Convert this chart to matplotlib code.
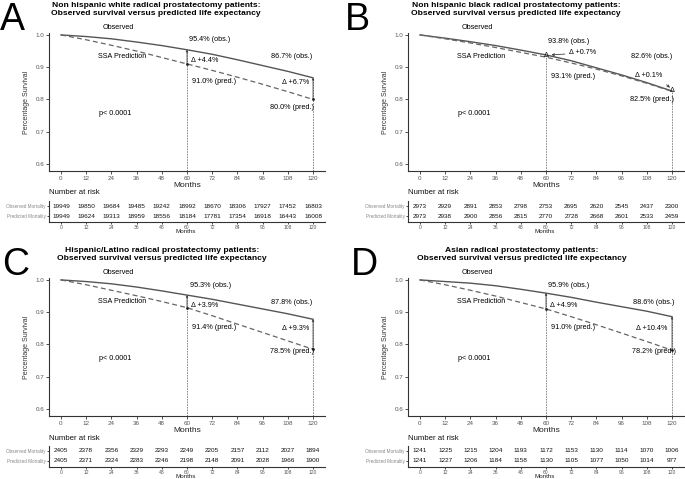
import matplotlib
matplotlib.use("Agg")
import matplotlib.pyplot as plt

plt.rcParams['font.family'] = ['Liberation Sans', 'DejaVu Sans']

months = [0, 12, 24, 36, 48, 60, 72, 84, 96, 108, 120]

titles = [
    "Non hispanic white radical prostatectomy patients:\nObserved survival versus predicted life expectancy",
    "Non hispanic black radical prostatectomy patients:\nObserved survival versus predicted life expectancy",
    "Hispanic/Latino radical prostatectomy patients:\nObserved survival versus predicted life expectancy",
    "Asian radical prostatectomy patients:\nObserved survival versus predicted life expectancy",
]
letters = ["A", "B", "C", "D"]

obs_A = [1.0, 0.995, 0.988, 0.978, 0.967, 0.954, 0.940, 0.923, 0.905, 0.887, 0.867]
pred_A = [1.0, 0.985, 0.968, 0.950, 0.930, 0.910, 0.890, 0.869, 0.847, 0.824, 0.800]
obs_B = [1.0, 0.990, 0.979, 0.967, 0.953, 0.938, 0.920, 0.898, 0.876, 0.852, 0.826]
pred_B = [1.0, 0.988, 0.975, 0.961, 0.946, 0.931, 0.913, 0.894, 0.873, 0.850, 0.825]
obs_C = [1.0, 0.995, 0.988, 0.978, 0.966, 0.953, 0.940, 0.925, 0.910, 0.895, 0.878]
pred_C = [1.0, 0.985, 0.968, 0.951, 0.933, 0.914, 0.889, 0.863, 0.837, 0.811, 0.785]
obs_D = [1.0, 0.995, 0.990, 0.982, 0.971, 0.959, 0.946, 0.931, 0.917, 0.903, 0.886]
pred_D = [1.0, 0.985, 0.968, 0.950, 0.930, 0.910, 0.886, 0.861, 0.835, 0.809, 0.782]

risk_obs_A = [19949, 19850, 19684, 19485, 19242, 18992, 18670, 18306, 17927, 17452, 16803]
risk_pred_A = [19949, 19624, 19313, 18959, 18556, 18184, 17781, 17354, 16918, 16443, 16008]
risk_obs_B = [2973, 2929, 2891, 2853, 2798, 2753, 2695, 2620, 2545, 2437, 2300]
risk_pred_B = [2973, 2938, 2900, 2856, 2815, 2770, 2728, 2668, 2601, 2533, 2459]
risk_obs_C = [2405, 2378, 2356, 2329, 2293, 2249, 2205, 2157, 2112, 2027, 1894]
risk_pred_C = [2405, 2371, 2324, 2283, 2246, 2198, 2148, 2091, 2028, 1966, 1900]
risk_obs_D = [1241, 1225, 1215, 1204, 1193, 1172, 1153, 1130, 1114, 1070, 1006]
risk_pred_D = [1241, 1227, 1206, 1184, 1158, 1130, 1105, 1077, 1050, 1014, 977]

obs_labels = [("95.4% (obs.)", "86.7% (obs.)"), ("93.8% (obs.)", "82.6% (obs.)"),
              ("95.3% (obs.)", "87.8% (obs.)"), ("95.9% (obs.)", "88.6% (obs.)")]
pred_labels = [("91.0% (pred.)", "80.0% (pred.)"), ("93.1% (pred.)", "82.5% (pred.)"),
               ("91.4% (pred.)", "78.5% (pred.)"), ("91.0% (pred.)", "78.2% (pred.)")]
delta_labels = [("Δ +4.4%", "Δ +6.7%"), ("Δ +0.7%", "Δ +0.1%"),
                ("Δ +3.9%", "Δ +9.3%"), ("Δ +4.9%", "Δ +10.4%")]

obs_all = [obs_A, obs_B, obs_C, obs_D]
pred_all = [pred_A, pred_B, pred_C, pred_D]
risk_obs_all = [risk_obs_A, risk_obs_B, risk_obs_C, risk_obs_D]
risk_pred_all = [risk_pred_A, risk_pred_B, risk_pred_C, risk_pred_D]

W, H = 685, 479
fig = plt.figure(figsize=(6.85, 4.79), dpi=100)


def px_axes(l, t, r, b):
    return fig.add_axes([l / W, 1 - b / H, (r - l) / W, (b - t) / H])


TICK_C = '#555555'

panels = [(49, 325, 0), (408, 684, 0), (49, 325, 245), (408, 684, 245)]
title_cx = [156, 516, 162, 522]
letter_x = [0, 345, 2, 351]

for i in range(4):
    l, r, dy = panels[i]
    ax = px_axes(l, 33 + dy, r, 171 + dy)
    ax.set_xlim(-5.7, 125.7)
    ax.set_ylim(0.578, 1.006)
    ax.plot(months, obs_all[i], color='#555555', lw=1.0, solid_joinstyle='round')
    ax.plot(months, pred_all[i], color='#666666', lw=0.9, ls=(0, (4, 2.5)))
    for m in (60, 120):
        k = months.index(m)
        ax.plot([m, m], [0.578, obs_all[i][k]], color='#777777', lw=0.6, ls=(0, (2, 1.2)))
        if i != 1:
            ax.annotate('', xy=(m, obs_all[i][k]), xytext=(m, pred_all[i][k]),
                        arrowprops=dict(arrowstyle='->', lw=0.5, color='#222222',
                                        mutation_scale=3, shrinkA=0, shrinkB=0))
            ax.plot([m], [pred_all[i][k]], marker='.', ms=2, color='#222222')
    for s in ('top', 'right'):
        ax.spines[s].set_visible(False)
    for s in ('left', 'bottom'):
        ax.spines[s].set_color('#333333')
        ax.spines[s].set_linewidth(0.8)
    ax.set_xticks(months)
    ax.set_yticks([0.6, 0.7, 0.8, 0.9, 1.0])
    ax.set_yticklabels(['0.6', '0.7', '0.8', '0.9', '1.0'])
    ax.tick_params(labelsize=4.5, colors='#333333', labelcolor=TICK_C, length=2, width=0.6, pad=1.5)
    ax.set_xlabel('Months', fontsize=6, color='#222222', labelpad=1)
    ax.set_ylabel('Percentage Survival', fontsize=5, color='#333333', labelpad=4)

    fs = 5.2
    ax.text(27.5, 1.022, 'Observed', fontsize=fs, ha='center', va='center', clip_on=False)
    ax.text(29, 0.932, 'SSA Prediction', fontsize=fs, ha='center', va='center')
    ax.text(26, 0.755, 'p< 0.0001', fontsize=fs, ha='center', va='center')

    if i == 1:
        ax.text(71, 0.979, obs_labels[i][0], fontsize=fs, ha='center', va='center')
        ax.text(73, 0.870, pred_labels[i][0], fontsize=fs, ha='center', va='center')
        ax.text(110.5, 0.932, obs_labels[i][1], fontsize=fs, ha='center', va='center')
        ax.text(110.5, 0.800, pred_labels[i][1], fontsize=fs, ha='center', va='center')
        ax.text(60, 0.936, 'Δ', fontsize=fs, ha='center', va='center')
        ax.text(120, 0.829, 'Δ', fontsize=fs, ha='center', va='center')
        ax.annotate(delta_labels[i][0], xy=(62, 0.938), xytext=(71, 0.944), fontsize=fs,
                    ha='left', va='center',
                    arrowprops=dict(arrowstyle='->', lw=0.5, color='#222222', mutation_scale=4,
                                    shrinkA=1, shrinkB=1))
        ax.annotate(delta_labels[i][1], xy=(119.5, 0.834), xytext=(109, 0.873), fontsize=fs,
                    ha='center', va='center',
                    arrowprops=dict(arrowstyle='->', lw=0.5, color='#222222', mutation_scale=4,
                                    shrinkA=3, shrinkB=1, relpos=(0.9, 0.0)))
    else:
        if i == 0:
            y1 = (0.985, 0.920, 0.857, 0.932, 0.851, 0.774)
        else:
            y1 = (0.984, 0.922, 0.854, 0.929, 0.848, 0.777)
        ax.text(71, y1[0], obs_labels[i][0], fontsize=fs, ha='center', va='center')
        ax.text(62, y1[1], delta_labels[i][0], fontsize=fs, ha='left', va='center')
        ax.text(73, y1[2], pred_labels[i][0], fontsize=fs, ha='center', va='center')
        xr = 110 if i != 3 else 111.5
        ax.text(xr, y1[3], obs_labels[i][1], fontsize=fs, ha='center', va='center')
        ax.text(118, y1[4], delta_labels[i][1], fontsize=fs, ha='right', va='center')
        ax.text(xr, y1[5], pred_labels[i][1], fontsize=fs, ha='center', va='center')

    # risk table
    tb = px_axes(l, 201 + dy, r, 222 + dy)
    tb.set_xlim(-5.7, 125.7)
    tb.set_ylim(-0.6, 1.5)
    for j, m in enumerate(months):
        tb.text(m, 1, str(risk_obs_all[i][j]), fontsize=4.6, ha='center', va='center', color='#111111')
        tb.text(m, 0, str(risk_pred_all[i][j]), fontsize=4.6, ha='center', va='center', color='#111111')
    for s in ('top', 'right'):
        tb.spines[s].set_visible(False)
    for s in ('left', 'bottom'):
        tb.spines[s].set_color('#333333')
        tb.spines[s].set_linewidth(0.8)
    tb.set_xticks(months)
    tb.set_yticks([0, 1])
    tb.set_yticklabels(['Predicted Mortality', 'Observed Mortality'])
    tb.tick_params(axis='y', labelsize=3.3, labelcolor='#888888', length=1.5, width=0.5, pad=1)
    tb.tick_params(axis='x', labelsize=3.6, labelcolor=TICK_C, length=1.5, width=0.5, pad=0.8)
    fig.text(((l + r) / 2 - 1) / W, 1 - (231.5 + dy) / H, 'Months', fontsize=4.5,
             ha='center', va='center', color='#222222')
    fig.text(l / W, 1 - (193 + dy) / H, 'Number at risk', fontsize=5.6, ha='left', va='center',
             color='#111111')

    # title and letter
    fig.text(title_cx[i] / W, 1 - (9.5 + dy) / H, titles[i], fontsize=6.1, fontweight='bold',
             ha='center', va='center', linespacing=1.15)
    fig.text(letter_x[i] / W, 1 - (30 + dy) / H, letters[i], fontsize=27, ha='left',
             va='baseline')

fig.savefig('out.png', dpi=100)
